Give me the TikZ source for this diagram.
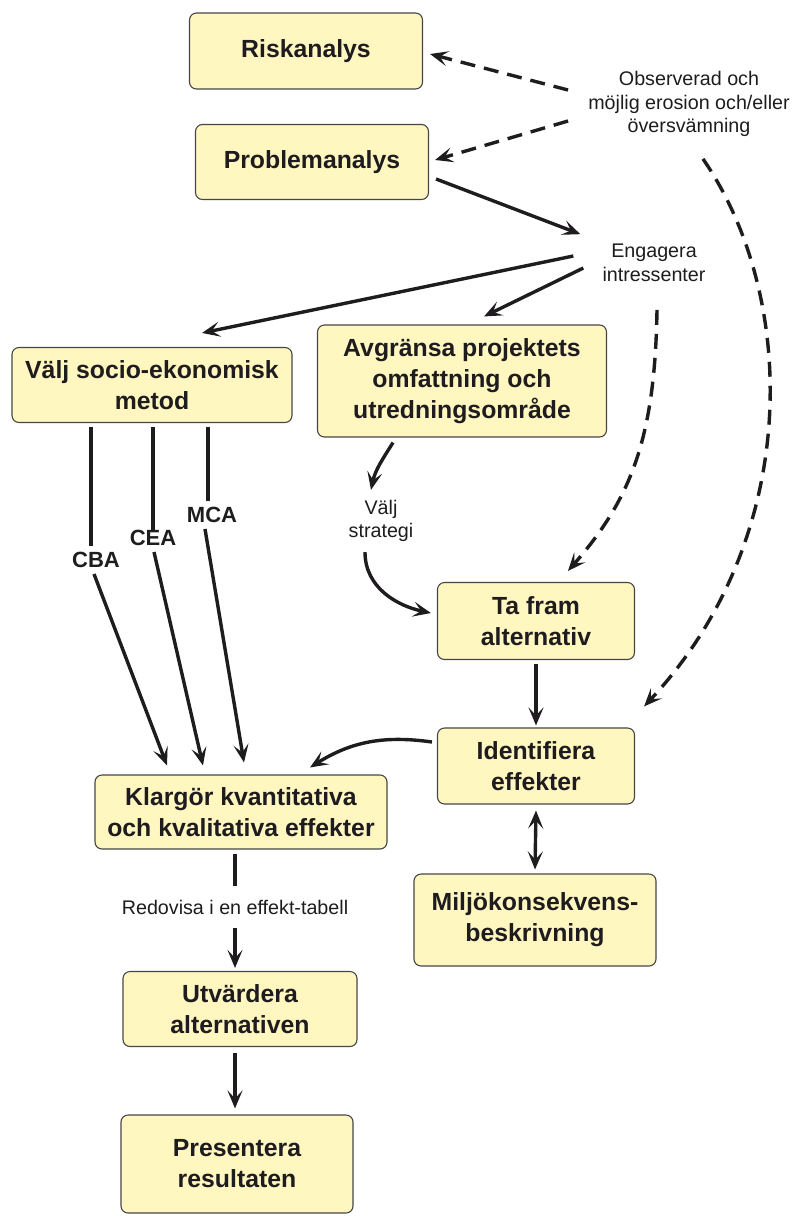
\documentclass[tikz,border=0pt]{standalone}
\usepackage{fontspec}
\setmainfont{Liberation Sans}
\usepackage{tikz}
\usetikzlibrary{arrows.meta}
\definecolor{stegfill}{RGB}{255,246,192}
\definecolor{stegline}{RGB}{70,70,70}
\definecolor{ink}{RGB}{30,28,30}

\begin{document}
\begin{tikzpicture}[x=1pt,y=-1pt,
  >={Stealth[length=18pt,width=15pt,inset=8pt]},
  stegbox/.style={draw=stegline,fill=stegfill,line width=1.1pt,rounded corners=7pt,
    align=center,inner sep=0pt,text=ink,font=\bfseries\fontsize{24.8}{31}\selectfont},
  notetext/.style={align=center,inner sep=2pt,text=ink,font=\fontsize{19.7}{23.5}\selectfont},
  metodtext/.style={inner sep=2pt,text=ink,font=\bfseries\fontsize{22}{26}\selectfont},
  linje/.style={draw=ink,line width=3.4pt},
  pil/.style={linje,->},
  dubbelpil/.style={linje,<->},
  streckpil/.style={pil,dash pattern=on 15pt off 9pt}]
\useasboundingbox (0,0) rectangle (792,1216);

% rutorna
\node[stegbox,minimum width=233,minimum height=76] (risk) at (306,51) {Riskanalys};
\node[stegbox,minimum width=233,minimum height=75] (prob) at (312,162) {Problemanalys};
\node[stegbox,minimum width=280,minimum height=75] (metod) at (152,385) {Välj socio-ekonomisk\\metod};
\node[stegbox,minimum width=289,minimum height=112] (avgr) at (462,381) {Avgränsa projektets\\omfattning och\\utredningsområde};
\node[stegbox,minimum width=197,minimum height=77] (alt) at (536,621) {Ta fram\\alternativ};
\node[stegbox,minimum width=197,minimum height=76] (ident) at (536,766) {Identifiera\\effekter};
\node[stegbox,minimum width=242,minimum height=92] (mkb) at (535,920) {Miljökonsekvens-\\beskrivning};
\node[stegbox,minimum width=292,minimum height=74] (klar) at (241,812) {Klargör kvantitativa\\och kvalitativa effekter};
\node[stegbox,minimum width=234,minimum height=75] (utv) at (240,1009) {Utvärdera\\alternativen};
\node[stegbox,minimum width=232,minimum height=98] (pres) at (237,1164) {Presentera\\resultaten};

% fri text
\node[notetext] (obs) at (689,104) {Observerad och\\möjlig erosion och/eller\\översvämning};
\node[notetext] (eng) at (654,263) {Engagera\\intressenter};
\node[notetext] (strat) at (381,521) {Välj\\strategi};
\node[notetext] (tab) at (235,907) {Redovisa i en effekt-tabell};
\node[metodtext] (cba) at (96,560) {CBA};
\node[metodtext] (cea) at (153,538) {CEA};
\node[metodtext] (mca) at (212,515) {MCA};

% pilar
\draw[streckpil] ([shift={(-18,-14)}]obs.west) -- ([shift={(7,3)}]risk.east);
\draw[streckpil] ([shift={(-18,17)}]obs.west) -- ([shift={(6,-2)}]prob.east);
\draw[streckpil] ([shift={(14,20)}]obs.south) .. controls (800,300) and (800,540) .. ([shift={(9,-21)}]ident.north east);
\draw[streckpil] ([shift={(3,26)}]eng.south) .. controls (655,440) and (630,500) .. ([shift={(32,-11)}]alt.north);

\draw[pil] ([shift={(7,17)}]prob.east) -- ([shift={(-20,-8)}]eng.north west);
\draw[pil] ([shift={(-27,-7)}]eng.west) -- ([shift={(50,-14)}]metod.north);
\draw[pil] ([shift={(-17,5)}]eng.west) -- ([shift={(22,-8)}]avgr.north);
\draw[pil] ([shift={(-69,5)}]avgr.south) to[out=-122,in=78] ([shift={(-10,-8)}]strat.north);
\draw[pil] ([shift={(-16,8)}]strat.south) to[out=-90,in=168] ([shift={(-6,-8)}]alt.west);
\draw[pil] ([yshift=-4pt]alt.south) -- ([yshift=2pt]ident.north);
\draw[dubbelpil] ([yshift=-6pt]ident.south) -- ([yshift=4pt]mkb.north);
\draw[pil] ([shift={(-5,-24)}]ident.west) to[out=172,in=32] ([shift={(69,-7)}]klar.north);

\draw[linje] ([yshift=-4pt]metod.south -| cba.north) ++(-5,0) -- ([shift={(-5,-4)}]cba.north);
\draw[linje] ([yshift=-4pt]metod.south -| cea.north) -- ([yshift=-4pt]cea.north);
\draw[linje] ([yshift=-4pt]metod.south -| mca.north) ++(-4,0) -- ([shift={(-4,-4)}]mca.north);
\draw[pil] ([shift={(-2,4)}]cba.south) -- ([shift={(-74,-9)}]klar.north);
\draw[pil] ([shift={(1,4)}]cea.south) -- ([shift={(-38,-9)}]klar.north);
\draw[pil] ([shift={(-7,4)}]mca.south) -- ([shift={(3,-12)}]klar.north);

\draw[linje] ([yshift=-4pt]klar.south -| tab.north) -- ([yshift=12pt]tab.north);
\draw[pil] ([yshift=-12pt]tab.south) -- ([yshift=3pt]utv.north -| tab.south);
\draw[pil] ([yshift=-6pt]utv.south -| tab.south) -- ([yshift=6pt]pres.north -| tab.south);
\end{tikzpicture}
\end{document}
